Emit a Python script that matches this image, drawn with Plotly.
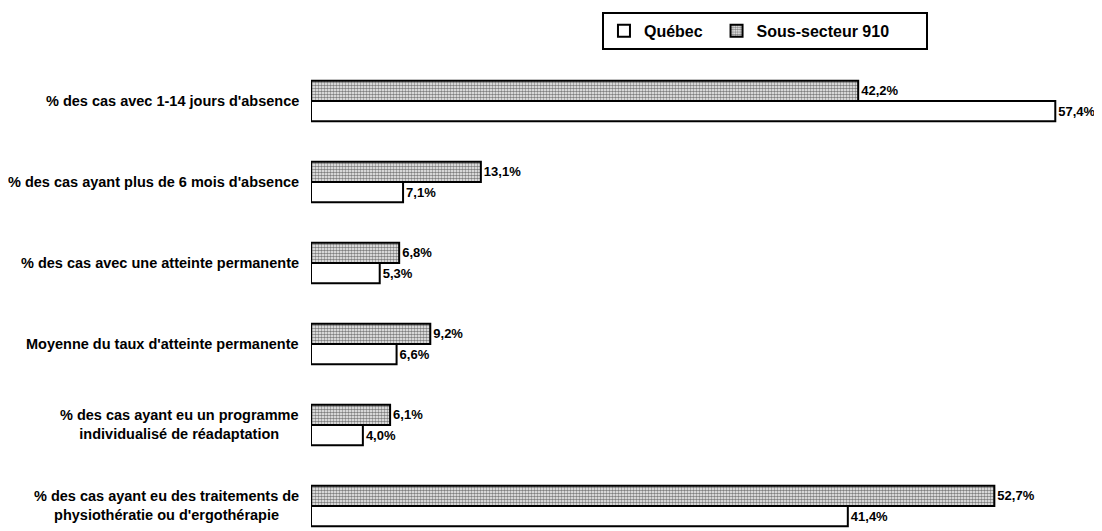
import plotly.graph_objects as go

categories = [
    "% des cas avec 1-14 jours d'absence",
    "% des cas ayant plus de 6 mois d'absence",
    "% des cas avec une atteinte permanente",
    "Moyenne du taux d'atteinte permanente",
    "% des cas ayant eu un programme<br>individualisé de réadaptation",
    "% des cas ayant eu des traitements de<br>physiothératie ou d'ergothérapie",
]
sous_secteur = [42.2, 13.1, 6.8, 9.2, 6.1, 52.7]
quebec = [57.4, 7.1, 5.3, 6.6, 4.0, 41.4]

FONT = "Liberation Sans, Arial, sans-serif"
idx = list(range(len(categories)))

fig = go.Figure()
fig.add_trace(go.Bar(
    name="<b>Sous-secteur 910</b>" + "&nbsp;" * 7, y=idx, x=sous_secteur, orientation="h",
    marker=dict(color="white", line=dict(color="black", width=2),
                pattern=dict(shape=".", fgcolor="black", bgcolor="white", size=3, solidity=0.6)),
    texttemplate="<b>%{x:.1f}%</b>", textposition="outside",
    textfont=dict(family=FONT, size=13, color="black"), cliponaxis=False,
))
fig.add_trace(go.Bar(
    name="<b>Québec</b>&nbsp;&nbsp;", y=idx, x=quebec, orientation="h",
    marker=dict(color="white", line=dict(color="black", width=2)),
    texttemplate="<b>%{x:.1f}%</b>", textposition="outside",
    textfont=dict(family=FONT, size=13, color="black"), cliponaxis=False,
))

for i, c in enumerate(categories):
    fig.add_annotation(x=0, y=i, xref="paper", yref="y",
                       text="<b>" + c.replace("<br>", "</b><br><b>") + "</b>",
                       xanchor="right", align="center", showarrow=False, xshift=-10,
                       font=dict(family=FONT, size=14.5, color="black"))

fig.update_layout(
    width=1094, height=523,
    margin=dict(l=303, r=13, t=52, b=0),
    paper_bgcolor="white", plot_bgcolor="white",
    barmode="group", bargap=0.5, bargroupgap=0,
    separators=", ",
    font=dict(family=FONT, size=12, color="black"),
    xaxis=dict(range=[0, 60], visible=False),
    yaxis=dict(range=[5.309, -0.506], visible=False),
    legend=dict(orientation="h", x=0.374, xanchor="left", y=1.102, yanchor="top",
                traceorder="reversed", bordercolor="black", borderwidth=2,
                font=dict(family=FONT, size=16, color="black"), bgcolor="white"),
)

fig.write_html("out.html")
